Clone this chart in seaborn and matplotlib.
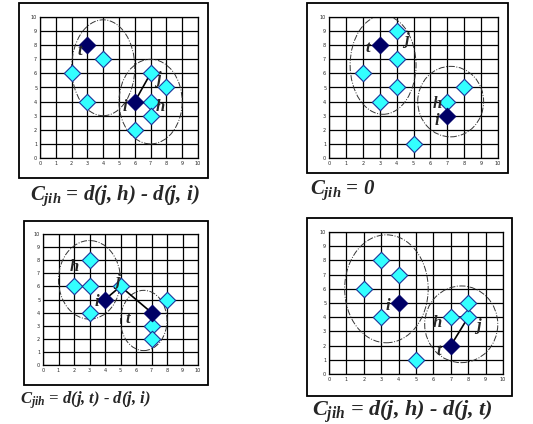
import matplotlib
matplotlib.use("Agg")
import matplotlib.pyplot as plt
import seaborn as sns
import pandas as pd
from matplotlib.patches import Ellipse, Rectangle

plt.rcParams['mathtext.fontset'] = 'custom'
plt.rcParams['mathtext.it'] = 'Liberation Serif:italic:bold'
plt.rcParams['mathtext.rm'] = 'Liberation Serif:italic:bold'

W, H = 533, 424
# panel data
p1_cx = [2, 3, 4, 7, 8, 7, 7, 6]; p1_cy = [6, 4, 7, 6, 5, 4, 3, 2]
p1_dx = [3, 6]; p1_dy = [8, 4]
p2_cx = [2, 3, 4, 4, 4, 7, 8, 5]; p2_cy = [6, 4, 9, 7, 5, 4, 5, 1]
p2_dx = [3, 7]; p2_dy = [8, 3]
p3_cx = [2, 3, 3, 3, 5, 8, 7, 7]; p3_cy = [6, 8, 6, 4, 6, 5, 3, 2]
p3_dx = [4, 7]; p3_dy = [5, 4]
p4_cx = [2, 3, 4, 3, 5, 7, 8, 8]; p4_cy = [6, 8, 7, 4, 1, 4, 4, 5]
p4_dx = [4, 7]; p4_dy = [5, 2]
ticks = list(range(0, 11))
captions = [r'$C_{jih}$ = d(j, h) - d(j, i)', r'$C_{jih}$ = 0',
            r'$C_{jih}$ = d(j, t) - d(j, i)', r'$C_{jih}$ = d(j, h) - d(j, t)']

panels = [
    dict(cx=p1_cx, cy=p1_cy, dx=p1_dx, dy=p1_dy,
         frame=(19, 3, 208, 178), ax=(40, 17, 198, 158), cap=(30, 196, 15),
         ell=[((4.0, 6.4), 4.0, 6.8), ((7.0, 4.0), 4.0, 6.0)],
         lines=[([6, 7], [4, 6])],
         labels=[('t', 2.5, 7.6), ('i', 5.4, 3.6), ('j', 7.5, 5.6), ('h', 7.6, 3.6)]),
    dict(cx=p2_cx, cy=p2_cy, dx=p2_dx, dy=p2_dy,
         frame=(307, 3, 508, 173), ax=(329, 17, 498, 158), cap=(310, 190, 15),
         ell=[((3.2, 6.6), 3.9, 7.0), ((7.2, 4.0), 3.9, 5.0)],
         lines=[],
         labels=[('t', 2.3, 7.8), ('j', 4.6, 8.4), ('h', 6.4, 3.8), ('i', 6.4, 2.6)]),
    dict(cx=p3_cx, cy=p3_cy, dx=p3_dx, dy=p3_dy,
         frame=(24, 221, 208, 385), ax=(43, 234, 198, 365), cap=(20, 400, 12),
         ell=[((3.0, 6.5), 4.0, 6.0), ((6.5, 3.4), 3.0, 4.6)],
         lines=[([4, 5, 7], [5, 6, 4])],
         labels=[('h', 2.0, 7.5), ('i', 3.5, 4.8), ('j', 4.8, 6.4), ('t', 5.5, 3.5)]),
    dict(cx=p4_cx, cy=p4_cy, dx=p4_dx, dy=p4_dy,
         frame=(307, 218, 512, 396), ax=(329, 232, 503, 374), cap=(312, 412, 16),
         ell=[((3.3, 6.0), 4.8, 7.6), ((7.6, 3.5), 4.2, 5.4)],
         lines=[([7, 8], [4, 4]), ([8, 7], [4, 2])],
         labels=[('i', 3.4, 4.8), ('h', 6.2, 3.6), ('j', 8.6, 3.4), ('t', 6.3, 1.6)]),
]

sns.set_style("white")
fig = plt.figure(figsize=(W / 100, H / 100), dpi=100)
for p in panels:
    x0, y0, x1, y1 = p['frame']
    fig.patches.append(Rectangle((x0 / W, 1 - y1 / H), (x1 - x0) / W, (y1 - y0) / H,
                                 transform=fig.transFigure, fill=False, ec='black', lw=1.3))
    a0, b0, a1, b1 = p['ax']
    ax = fig.add_axes([a0 / W, 1 - b1 / H, (a1 - a0) / W, (b1 - b0) / H])
    ax.set_xlim(0, 10); ax.set_ylim(0, 10)
    ax.set_xticks(ticks); ax.set_yticks(ticks)
    ax.tick_params(labelsize=3.5, length=0, pad=2)
    ax.grid(True, color='black', lw=0.9)
    ax.set_axisbelow(True)
    for s in ax.spines.values():
        s.set_color('black'); s.set_linewidth(0.9)
    for (c, w, h) in p['ell']:
        ax.add_patch(Ellipse(c, w, h, fill=False, ls='-.', ec='#333333', lw=0.7, zorder=2))
    for lx, ly in p['lines']:
        ax.plot(lx, ly, color='black', lw=1.2, zorder=3)
    sns.scatterplot(x=p['cx'], y=p['cy'], ax=ax, marker='D', s=70, color='#33ffff',
                    edgecolor='#1a3399', linewidth=0.8, zorder=4, legend=False)
    sns.scatterplot(x=p['dx'], y=p['dy'], ax=ax, marker='D', s=70, color='#000066',
                    edgecolor='#000066', linewidth=0.8, zorder=4, legend=False)
    for t, tx, ty in p['labels']:
        ax.text(tx, ty, t, family='Liberation Serif', style='italic', weight='bold',
                fontsize=12, ha='center', va='center', zorder=5)
    cx, cy, fs = p['cap']
    fig.text(cx / W, 1 - cy / H, captions[panels.index(p)], family='Liberation Serif',
             style='italic', weight='bold', fontsize=fs, ha='left', va='center')

fig.savefig('out.png', dpi=100)
